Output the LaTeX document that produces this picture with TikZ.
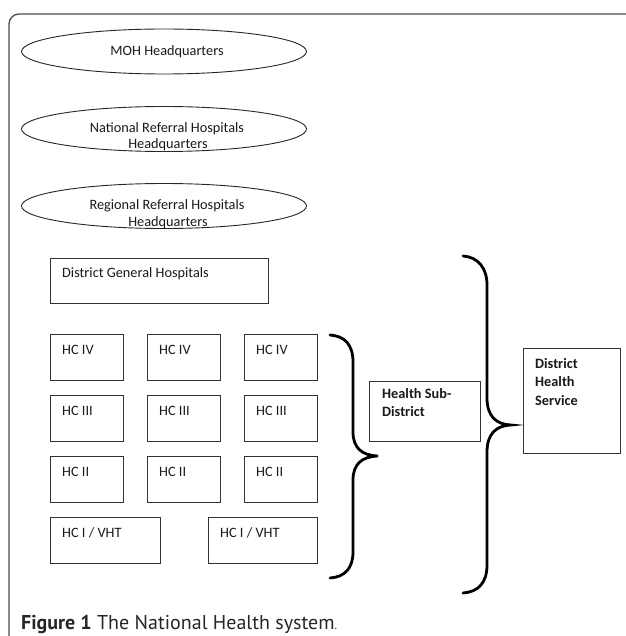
\documentclass[tikz,border=0pt]{standalone}
\usepackage{fontspec}
\setmainfont{Carlito}
\newfontfamily\capfont{PT Sans}
\usetikzlibrary{shapes.geometric}
\begin{document}
\begin{tikzpicture}[x=1pt,y=-1pt,
  boxst/.style={draw=black!80, line width=0.9pt, inner sep=0pt, anchor=north west},
  ellst/.style={draw=black!85, line width=0.9pt, ellipse, inner sep=0pt, minimum width=285pt, minimum height=45pt},
  lbl/.style={inner sep=0pt, anchor=base west, font=\fontsize{14.3}{16}\selectfont, text=black!90},
  blbl/.style={inner sep=0pt, anchor=north west, align=left, font=\fontsize{14.3}{18.5}\selectfont\bfseries, text=black!90},
  elbl/.style={inner sep=0pt, align=center, font=\fontsize{14.3}{16}\selectfont, text=black!90},
  bracest/.style={line width=2.8pt, line cap=round}]
\useasboundingbox (0,0) rectangle (625,636);
% frame
\draw[black!70, line width=1.3pt] (9,640) -- (9,24) arc[start angle=180, end angle=270, radius=10] -- (630,14);
% ellipses
\node[ellst] (moh) at (164,51.5) {};
\node[elbl, anchor=base] (mohT) at (167,56) {MOH Headquarters};
\node[ellst] (nat) at (164,129) {};
\node[elbl, anchor=base] (natT) at (167,133) {National Referral Hospitals};
\node[elbl, anchor=base] (natT2) at (168,149) {Headquarters};
\node[ellst] (reg) at (164,206) {};
\node[elbl, anchor=base] (regT) at (167,210) {Regional Referral Hospitals};
\node[elbl, anchor=base] (regT2) at (168,226) {Headquarters};
% district general hospitals
\node[boxst, minimum width=218pt, minimum height=45pt] (dgh) at (50,258) {};
\node[lbl] (dghT) at (62,277) {District General Hospitals};
% HC grid
\foreach \r/\t/\y in {iv/HC IV/334, iii/HC III/395, ii/HC II/456}{
  \foreach \c/\x in {1/50, 2/147, 3/244}{
    \node[boxst, minimum width=73pt, minimum height=46pt] (\r\c) at (\x,\y) {};
    \node[lbl] (\r\c T) at (\x+12,\y+20.5) {\t};
  }
}
\node[boxst, minimum width=110pt, minimum height=46pt] (i1) at (50,517) {};
\node[lbl] (i1T) at (62,537.5) {HC I / VHT};
\node[boxst, minimum width=109pt, minimum height=46pt] (i2) at (208,517) {};
\node[lbl] (i2T) at (220,537.5) {HC I / VHT};
% sub-district
\node[boxst, minimum width=111pt, minimum height=60pt] (hsd) at (369,381) {};
\node[blbl] (hsdT) at (382,388) {Health Sub-\\District};
\node[boxst, minimum width=97pt, minimum height=105pt] (dhs) at (523,348) {};
\node[blbl] (dhsT) at (535,358) {District\\Health\\Service};
% braces
\coordinate (sbTop) at (330,335);
\coordinate (sbTip) at (378,456);
\coordinate (sbBot) at (330,578);
\draw[bracest] (sbTop) .. controls (345,336) and (353,345) .. (353,362) -- (353,432)
  .. controls (353,448) and (362,455.5) .. (sbTip)
  .. controls (362,456.5) and (353,464) .. (353,480) -- (353,552)
  .. controls (353,568) and (345,577) .. (sbBot);
\coordinate (bbTop) at (463,256);
\coordinate (bbTip) at (511,425);
\coordinate (bbBot) at (463,593);
\draw[bracest] (bbTop) .. controls (478,257) and (487,268) .. (487,285) -- (487,398)
  .. controls (487,416) and (496,424.5) .. (bbTip)
  .. controls (496,425.5) and (487,434) .. (487,452) -- (487,565)
  .. controls (487,583) and (478,592) .. (bbBot);
% caption
\node[inner sep=0pt, anchor=base west, font=\capfont\fontsize{20}{22}\selectfont, text=black!85] (cap) at (21,629)
  {\textbf{Figure 1} The National Health system{\fontsize{12}{12}\selectfont .}};
\end{tikzpicture}
\end{document}
